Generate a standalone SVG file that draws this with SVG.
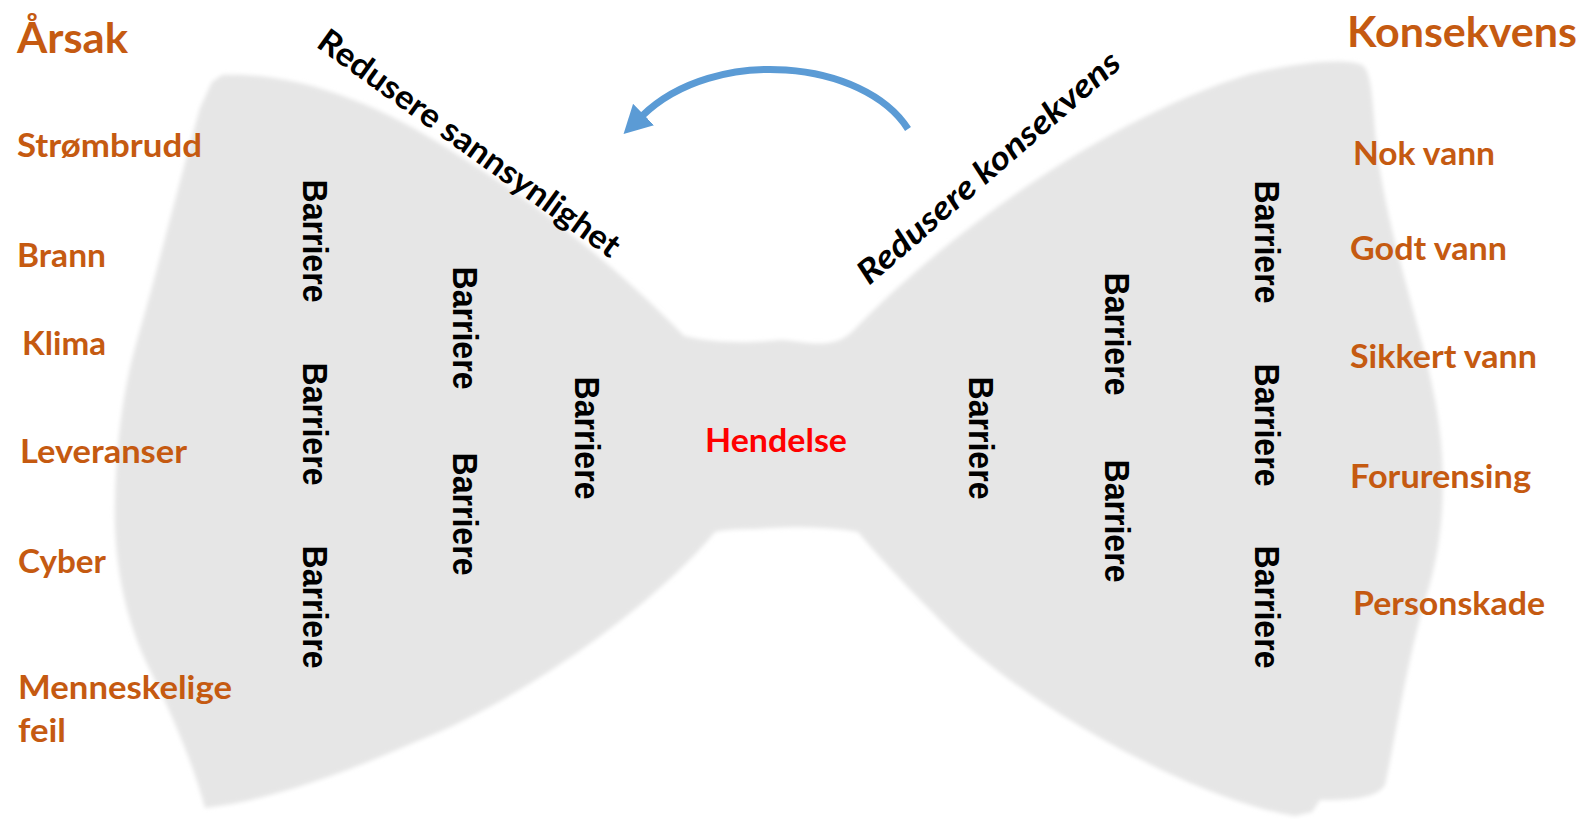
<svg xmlns="http://www.w3.org/2000/svg" width="1585" height="819" viewBox="0 0 1585 819">
  <defs>
    <filter id="soft" x="-5%" y="-5%" width="110%" height="110%">
      <feGaussianBlur stdDeviation="2"/>
    </filter>
    <marker id="head" markerUnits="userSpaceOnUse" markerWidth="28" markerHeight="30" viewBox="0 0 26 28" refX="2" refY="14" orient="auto">
      <path d="M0,0 L26,14 L0,28 Z" fill="#5b9bd5"/>
    </marker>
  </defs>
  <style>
    .lbl { font-family: Lato, "Open Sans", "Liberation Sans", sans-serif; font-weight: 700; fill: #c55a11; }
    .item { font-size: 33px; }
    .head { font-size: 42px; }
    .event { font-family: Lato, "Open Sans", "Liberation Sans", sans-serif; font-weight: 700; font-size: 33px; fill: #ff0000; }
    .bar { font-family: "Liberation Sans", Arial, sans-serif; font-weight: 700; font-size: 35px; fill: #000000; text-anchor: middle; }
    .diag { font-family: Lato, "Open Sans", "Liberation Sans", sans-serif; font-weight: 700; font-size: 33px; fill: #000000; }
    .arrow { fill: none; stroke: #5b9bd5; stroke-width: 7; }
  </style>
  <rect width="1585" height="819" fill="#ffffff"/>

  <g id="bowtie">
    <path filter="url(#soft)" fill="#e6e6e6" d="M 212,82 L 222,75 C 300,72 380,105 450,150 C 540,205 620,270 684,336 C 720,345 760,342 780,340 C 800,340 830,352 852,332 C 940,240 1100,120 1250,74 C 1300,62 1345,58 1362,65 C 1372,72 1372,100 1376,140 C 1385,230 1420,320 1435,400 C 1448,470 1445,540 1425,600 C 1405,670 1395,740 1385,785 C 1375,800 1345,800 1320,800 L 1312,812 L 1295,816 C 1200,800 1050,720 960,640 C 920,600 890,570 858,532 C 840,528 800,526 770,528 C 750,530 730,528 715,532 C 650,610 520,700 420,740 C 340,775 270,800 205,808 C 195,770 175,720 150,670 C 125,620 113,560 115,500 C 117,430 125,380 140,330 C 160,260 180,180 200,108 Z"/>
  </g>

  <g id="causes">
    <text class="lbl head" x="17" y="53" textLength="111" lengthAdjust="spacingAndGlyphs">Årsak</text>
    <text class="lbl item" x="17" y="157" textLength="185" lengthAdjust="spacingAndGlyphs">Strømbrudd</text>
    <text class="lbl item" x="17" y="267" textLength="89" lengthAdjust="spacingAndGlyphs">Brann</text>
    <text class="lbl item" x="22" y="355" textLength="84" lengthAdjust="spacingAndGlyphs">Klima</text>
    <text class="lbl item" x="20" y="463" textLength="167" lengthAdjust="spacingAndGlyphs">Leveranser</text>
    <text class="lbl item" x="18" y="573" textLength="88" lengthAdjust="spacingAndGlyphs">Cyber</text>
    <text class="lbl item" x="18" y="699" textLength="214" lengthAdjust="spacingAndGlyphs">Menneskelige</text>
    <text class="lbl item" x="18" y="742" textLength="48" lengthAdjust="spacingAndGlyphs">feil</text>
  </g>

  <g id="consequences">
    <text class="lbl head" x="1347" y="47" textLength="230" lengthAdjust="spacingAndGlyphs">Konsekvens</text>
    <text class="lbl item" x="1353" y="165" textLength="142" lengthAdjust="spacingAndGlyphs">Nok vann</text>
    <text class="lbl item" x="1350" y="260" textLength="157" lengthAdjust="spacingAndGlyphs">Godt vann</text>
    <text class="lbl item" x="1350" y="368" textLength="187" lengthAdjust="spacingAndGlyphs">Sikkert vann</text>
    <text class="lbl item" x="1350" y="488" textLength="181" lengthAdjust="spacingAndGlyphs">Forurensing</text>
    <text class="lbl item" x="1353" y="615" textLength="192" lengthAdjust="spacingAndGlyphs">Personskade</text>
  </g>

  <g id="event">
    <text class="event" x="705" y="452" textLength="142" lengthAdjust="spacingAndGlyphs">Hendelse</text>
  </g>

  <g id="barriers-left">
    <text class="bar" transform="translate(303,241) rotate(90)" textLength="123" lengthAdjust="spacingAndGlyphs">Barriere</text>
    <text class="bar" transform="translate(303,424) rotate(90)" textLength="123" lengthAdjust="spacingAndGlyphs">Barriere</text>
    <text class="bar" transform="translate(303,607) rotate(90)" textLength="123" lengthAdjust="spacingAndGlyphs">Barriere</text>
    <text class="bar" transform="translate(453,328) rotate(90)" textLength="123" lengthAdjust="spacingAndGlyphs">Barriere</text>
    <text class="bar" transform="translate(453,514) rotate(90)" textLength="123" lengthAdjust="spacingAndGlyphs">Barriere</text>
    <text class="bar" transform="translate(575,438) rotate(90)" textLength="123" lengthAdjust="spacingAndGlyphs">Barriere</text>
  </g>

  <g id="barriers-right">
    <text class="bar" transform="translate(969,438) rotate(90)" textLength="123" lengthAdjust="spacingAndGlyphs">Barriere</text>
    <text class="bar" transform="translate(1105,334) rotate(90)" textLength="123" lengthAdjust="spacingAndGlyphs">Barriere</text>
    <text class="bar" transform="translate(1105,521) rotate(90)" textLength="123" lengthAdjust="spacingAndGlyphs">Barriere</text>
    <text class="bar" transform="translate(1255,242) rotate(90)" textLength="123" lengthAdjust="spacingAndGlyphs">Barriere</text>
    <text class="bar" transform="translate(1255,425) rotate(90)" textLength="123" lengthAdjust="spacingAndGlyphs">Barriere</text>
    <text class="bar" transform="translate(1255,607) rotate(90)" textLength="123" lengthAdjust="spacingAndGlyphs">Barriere</text>
  </g>

  <g id="diagonal-labels">
    <text class="diag" transform="translate(315,46) rotate(35.8)" textLength="364" lengthAdjust="spacingAndGlyphs">Redusere sannsynlighet</text>
    <text class="diag" font-style="italic" transform="translate(869,286) rotate(-40.9)" textLength="336" lengthAdjust="spacingAndGlyphs">Redusere konsekvens</text>
  </g>

  <g id="connectors">
    <path class="arrow" d="M 908,129 C 864,60 715,45 642,116" marker-end="url(#head)"/>
  </g>
</svg>
